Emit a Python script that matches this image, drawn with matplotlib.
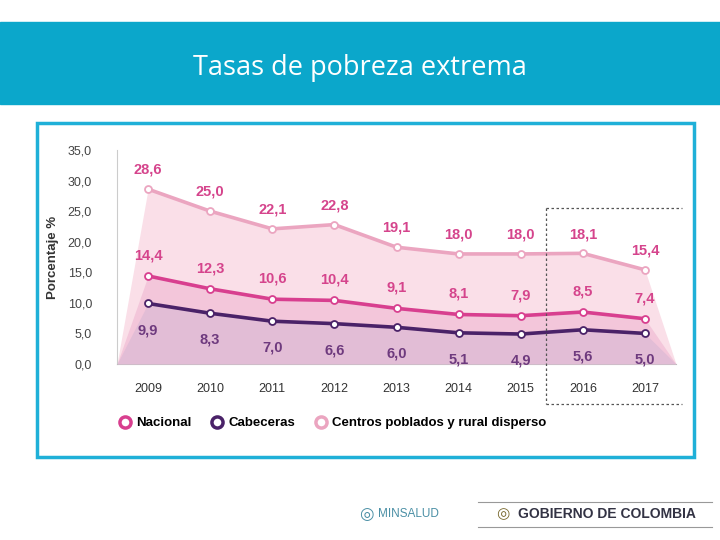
import numpy as np
import matplotlib
matplotlib.use('Agg')
import matplotlib.pyplot as plt
from matplotlib.patches import Rectangle
from matplotlib.lines import Line2D

plt.rcParams['font.family'] = ['Liberation Sans', 'DejaVu Sans']

years = [2009, 2010, 2011, 2012, 2013, 2014, 2015, 2016, 2017]
nacional = [14.4, 12.3, 10.6, 10.4, 9.1, 8.1, 7.9, 8.5, 7.4]
cabeceras = [9.9, 8.3, 7.0, 6.6, 6.0, 5.1, 4.9, 5.6, 5.0]
rural = [28.6, 25.0, 22.1, 22.8, 19.1, 18.0, 18.0, 18.1, 15.4]
yticks = [0, 5, 10, 15, 20, 25, 30, 35]

c_rural, f_rural = '#eba5c0', '#fadfe8'
c_nac, f_nac = '#d83f8f', '#f3c6da'
c_cab, f_cab = '#4a2268', '#e2bdd6'
lab_pink, lab_purple = '#d5448c', '#6e3a7e'

fig = plt.figure(figsize=(7.2, 5.4), dpi=100)

# banner and title
fig.patches.append(Rectangle((0, 1 - 104/540), 1, 82/540, transform=fig.transFigure,
                             color='#0ba7cb', zorder=0))
fig.text(0.5, 1 - 68/540, 'Tasas de pobreza extrema', color='white', fontsize=19.5,
         ha='center', va='center', family=['Open Sans', 'DejaVu Sans'])
# framed box
fig.patches.append(Rectangle((37/720, 1 - 457/540), 657/720, 334/540, transform=fig.transFigure,
                             fill=False, ec='#1fb0d8', lw=2.5, zorder=1))

ax = fig.add_axes([117/720, 1 - 364/540, 559/720, 214/540])
x = np.array(years, dtype=float)
xs = np.concatenate([[x[0] - 0.5], x, [x[-1] + 0.5]])

def ext(v):
    return np.concatenate([[0], v, [0]])

ax.fill_between(xs, ext(rural), color=f_rural, lw=0, zorder=1)
ax.fill_between(xs, ext(nacional), color=f_nac, lw=0, zorder=2)
ax.fill_between(xs, ext(cabeceras), color=f_cab, lw=0, zorder=3)

for vals, c in [(rural, c_rural), (nacional, c_nac), (cabeceras, c_cab)]:
    ax.plot(x, vals, color=c, lw=2.6, marker='o', ms=5, mfc='white', mec=c, mew=1.3, zorder=5)

fmt = lambda v: f'{v:.1f}'.replace('.', ',')
for xi, v in zip(x, rural):
    ax.annotate(fmt(v), (xi, v), xytext=(0, 11), textcoords='offset points', ha='center',
                color=lab_pink, fontsize=10.5, fontweight='bold')
for xi, v in zip(x, nacional):
    ax.annotate(fmt(v), (xi, v), xytext=(0, 12), textcoords='offset points', ha='center',
                color=lab_pink, fontsize=10.5, fontweight='bold')
for xi, v in zip(x, cabeceras):
    ax.annotate(fmt(v), (xi, v), xytext=(0, -22), textcoords='offset points', ha='center',
                color=lab_purple, fontsize=10.5, fontweight='bold')

ax.set_xlim(x[0] - 0.5, x[-1] + 0.5)
ax.set_ylim(0, 35)
ax.set_yticks(yticks)
ax.set_yticklabels([fmt(v) for v in yticks], color='#444444', fontsize=9)
ax.set_xticks(x)
ax.set_xticklabels([str(y) for y in years], color='#333333', fontsize=9)
ax.tick_params(length=0, pad=14)
ax.tick_params(axis='y', pad=18)
ax.set_ylabel('Porcentaje %', fontsize=9.5, fontweight='bold', color='#333333', labelpad=6)
for s in ['top', 'right']:
    ax.spines[s].set_visible(False)
ax.spines['left'].set_color('#cccccc')
ax.spines['bottom'].set_color('#bbbbbb')
ax.patch.set_alpha(0)

# dashed projection box
dx0 = 546/720
fig.add_artist(Line2D([dx0, dx0], [1 - 208/540, 1 - 404/540], transform=fig.transFigure,
                      color='#555555', lw=0.9, ls=(0, (2, 2))))
fig.add_artist(Line2D([dx0, 682/720], [1 - 208/540, 1 - 208/540], transform=fig.transFigure,
                      color='#555555', lw=0.9, ls=(0, (2, 2))))
fig.add_artist(Line2D([dx0, 682/720], [1 - 404/540, 1 - 404/540], transform=fig.transFigure,
                      color='#555555', lw=0.9, ls=(0, (2, 2))))

# legend
handles = [Line2D([], [], ls='', marker='o', ms=8, mfc='white', mec=c, mew=2.5)
           for c in [c_nac, c_cab, c_rural]]
leg = fig.legend(handles, ['Nacional', 'Cabeceras', 'Centros poblados y rural disperso'],
                 loc='center left', bbox_to_anchor=(108/720, 1 - 423/540), ncol=3, frameon=False,
                 handlelength=0.8, handletextpad=0.4, columnspacing=1.6,
                 prop={'weight': 'bold', 'size': 9.5})

# footer
fig.text(378/720, 1 - 514/540, 'MINSALUD', color='#4a8fa5', fontsize=8.5, ha='left', va='center')
fig.text(359/720, 1 - 514/540, '\u25CE', color='#4a8fa5', fontsize=12, ha='left', va='center',
         family=['DejaVu Sans'])
fig.text(518/720, 1 - 514/540, 'GOBIERNO DE COLOMBIA', color='#333344', fontsize=10,
         ha='left', va='center', fontweight='bold')
fig.text(496/720, 1 - 514/540, '\u25CE', color='#7a6a30', fontsize=11, ha='left', va='center',
         family=['DejaVu Sans'])
for yy in [502, 527]:
    fig.add_artist(Line2D([478/720, 712/720], [1 - yy/540, 1 - yy/540], transform=fig.transFigure,
                          color='#999999', lw=0.8))

fig.savefig('out.png', dpi=100)
